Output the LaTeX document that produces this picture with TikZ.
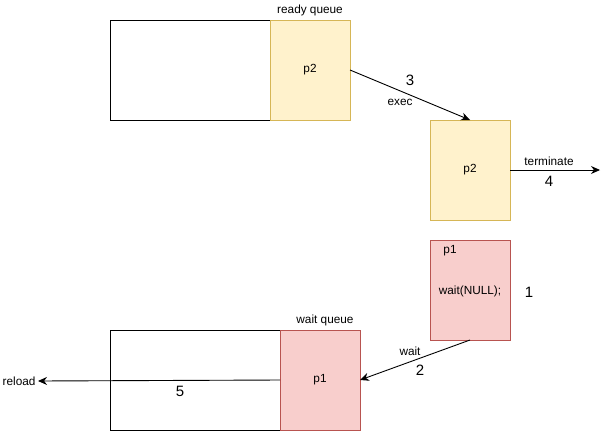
\documentclass[tikz,border=0pt]{standalone}
\usepackage{fontspec}
\setmainfont{Liberation Sans}
\definecolor{readyfill}{HTML}{FFF2CC}
\definecolor{readydraw}{HTML}{D6B656}
\definecolor{waitfill}{HTML}{F8CECC}
\definecolor{waitdraw}{HTML}{B85450}
\usetikzlibrary{arrows.meta, positioning}

\begin{document}
\begin{tikzpicture}[x=1pt, y=-1pt, line width=0.9pt, font=\fontsize{11.8}{14}\selectfont,
  slot/.style={draw, minimum height=100pt, inner sep=0pt, outer sep=0pt},
  ready/.style={draw=readydraw, fill=readyfill, minimum width=80pt, minimum height=100pt, inner sep=0pt, outer sep=0pt},
  waiting/.style={draw=waitdraw, fill=waitfill, minimum width=80pt, minimum height=100pt, inner sep=0pt, outer sep=0pt},
  flow/.style={-{Stealth[length=9pt, width=8pt]}},
  num/.style={font=\fontsize{15}{17}\selectfont}]
  \useasboundingbox (0,0) rectangle (609,431);

  % ready queue
  \node[slot, minimum width=160pt, anchor=north west] (rqbody) at (110,20) {};
  \node[ready, right=0pt of rqbody] (rqp2) {p2};
  \node[anchor=south, inner sep=1pt] (rqlabel) at (310,17) {ready queue};

  % running process
  \node[ready, anchor=north west] (run) at (430,120) {p2};
  \coordinate (exit) at (600,170);

  % blocked process
  \node[waiting, anchor=north west] (blk) at (430,240) {};
  \node (blkname) at (450,251) {p1};
  \node (blkcall) at (470,291) {wait(NULL);};

  % wait queue
  \node[slot, minimum width=170pt, anchor=north west] (wqbody) at (110,330) {};
  \node[waiting, right=0pt of wqbody] (wqp1) {p1};
  \node[anchor=south, inner sep=1pt] (wqlabel) at (325,327) {wait queue};
  \node[anchor=east, inner sep=2pt] (reload) at (38,381) {reload};

  % transitions
  \draw[flow] (rqp2.east) -- (run.north);
  \draw[flow] (run.east) -- (exit);
  \draw[flow] (blk.south) -- (wqp1.east);
  \draw[flow] (wqp1.west) -- (reload.east);

  % labels
  \node[num] (n3) at (410,80) {3};
  \node (exec) at (400,102) {exec};
  \node (term) at (549,161) {terminate};
  \node[num] (n4) at (549,181) {4};
  \node[num] (n1) at (529,292) {1};
  \node (waitlbl) at (410,351) {wait};
  \node[num] (n2) at (420,370) {2};
  \node[num] (n5) at (180,391) {5};
\end{tikzpicture}
\end{document}
